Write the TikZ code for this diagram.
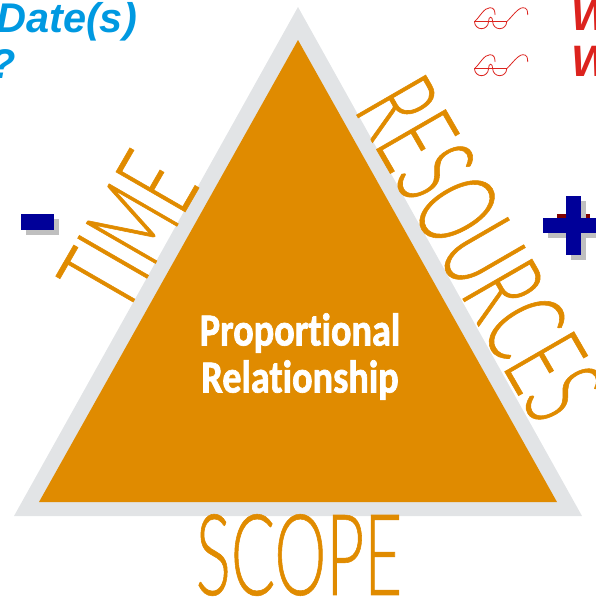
\documentclass[tikz,border=0pt]{standalone}
\usepackage{fontspec}
\setmainfont{Liberation Sans}
\newfontfamily\sidefont[FakeStretch=0.58,FakeBold=0.5]{Lato Light}
\newfontfamily\centerfont[FakeStretch=0.83,Ligatures=NoCommon,BoldFeatures={FakeBold=1.5}]{Carlito}
\definecolor{triorange}{RGB}{224,139,0}
\definecolor{trigray}{RGB}{226,228,230}
\definecolor{signblue}{RGB}{0,0,153}
\definecolor{signred}{RGB}{128,0,0}
\definecolor{headblue}{RGB}{0,153,225}
\definecolor{headred}{RGB}{220,35,30}
\tikzset{
  sidelabel/.style={inner sep=0pt, text=triorange, font=\sidefont\fontsize{113}{113}\selectfont},
  centerlabel/.style={inner sep=0pt, text=white, font=\centerfont\bfseries\fontsize{46}{46}\selectfont},
  bluehead/.style={inner sep=0pt, anchor=base west, text=headblue, font=\bfseries\itshape\fontsize{41.5}{42}\selectfont},
  redhead/.style={inner sep=0pt, anchor=base west, text=headred, font=\bfseries\itshape\fontsize{44}{44}\selectfont},
  glasses/.style={draw=headred, line width=0.8pt, line cap=round}
}
\begin{document}
\begin{tikzpicture}[x=1pt,y=-1pt]
    \useasboundingbox (0,0) rectangle (596,598);
    \clip (0,0) rectangle (596,598);
    % triangle
    \fill[trigray] (298,7) -- (582,516) -- (14,516) -- cycle;
    \fill[triorange] (298,40) -- (557,502) -- (39,502) -- cycle;
    % labels of the triangle
    \node[centerlabel] (proportional) at (300,333) {Proportional};
    \node[centerlabel] (relationship) at (300,380) {Relationship};
    \node[sidelabel] (scope) at (299,555) {SCOPE};
    \node[sidelabel, rotate=60] (time) at (128,231) {TIME};
    \node[sidelabel, rotate=-60] (resources) at (480,249) {RESOURCES};
    % minus sign
    \fill[gray!50] (26,219) rectangle (59,235);
    \fill[signblue] (21,214) rectangle (54,230);
    % plus sign
    \fill[signred] (557,214) rectangle (590,220);
    \fill[gray!50] (548,223) rectangle (601,238);
    \fill[gray!50] (571,201) rectangle (586,260);
    \fill[signblue] (543,218) rectangle (596,233);
    \fill[signblue] (566,196) rectangle (581,255);
    % header texts, cut by the page
    \node[bluehead] (date) at (-4,32) {Date(s)};
    \node[bluehead] (question) at (-10,78) {?};
    \node[redhead] (first) at (571,30) {W};
    \node[redhead] (second) at (571,76) {W};
    % reading glasses
    \foreach \y in {21.7,68.7} {
      \draw[glasses] (474.5,\y) -- (506.7,\y);
      \draw[glasses] (474.5,\y) arc[start angle=180, end angle=0, radius=7];
      \draw[glasses] (492.7,\y) arc[start angle=180, end angle=0, radius=7];
      \draw[glasses] (488.5,\y) .. controls (488.5,\y-6) and (492.7,\y-6) .. (492.7,\y);
      \draw[glasses] (474.5,\y) .. controls (480,\y-5) and (484,\y-14) .. (490,\y-14) .. controls (494,\y-14) and (495,\y-11) .. (495,\y-7);
      \draw[glasses] (506.7,\y) .. controls (512,\y-5) and (518,\y-14) .. (523,\y-14) .. controls (527,\y-14) and (527.7,\y-11) .. (527.7,\y-7);
    }
  \end{tikzpicture}
\end{document}
